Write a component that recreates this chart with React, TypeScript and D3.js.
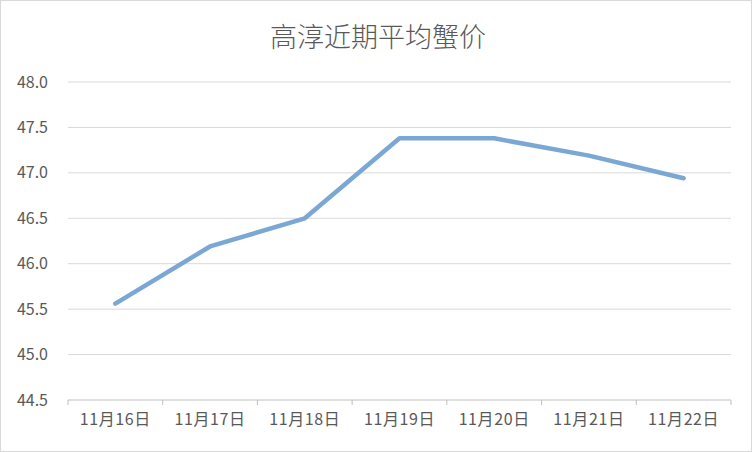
import { useEffect } from 'react';
import * as d3 from 'd3';

const title = '高淳近期平均蟹价';
const categories = ['11月16日', '11月17日', '11月18日', '11月19日', '11月20日', '11月21日', '11月22日'];
const prices = [45.56, 46.19, 46.5, 47.38, 47.38, 47.19, 46.94];
const yTicks = [44.5, 45.0, 45.5, 46.0, 46.5, 47.0, 47.5, 48.0];

const W = 752;
const H = 452;
const margin = { top: 82, right: 21, bottom: 52, left: 68 };
const font = '"Noto Sans CJK SC", "Noto Sans", sans-serif';

export default function App() {
  useEffect(() => {
    document.body.style.margin = '0';
  }, []);

  const x = d3
    .scaleBand<string>()
    .domain(categories)
    .range([margin.left, W - margin.right]);
  const y = d3
    .scaleLinear()
    .domain([44.5, 48.0])
    .range([H - margin.bottom, margin.top]);

  const line = d3
    .line<number>()
    .x((_, i) => (x(categories[i]) || 0) + x.bandwidth() / 2)
    .y((d) => y(d));

  const boundaries = [...categories.map((c) => x(c) || 0), W - margin.right];

  return (
    <svg width={W} height={H} style={{ display: 'block', fontFamily: font }}>
      <rect x={0.5} y={0.5} width={W - 1} height={H - 1} fill="#fff" stroke="#d9d9d9" />
      <text x={W / 2 + 2} y={47} textAnchor="middle" fontSize={27} fill="#595959" fontWeight={300}>
        {title}
      </text>
      {/* gridlines */}
      {yTicks.slice(1).map((t) => (
        <line key={t} x1={margin.left} x2={W - margin.right} y1={y(t)} y2={y(t)} stroke="#d9d9d9" />
      ))}
      {yTicks.map((t) => (
        <text key={'l' + t} x={48} y={y(t)} dy="0.35em" textAnchor="end" fontSize={16} fill="#595959">
          {d3.format('.1f')(t)}
        </text>
      ))}
      {/* x axis */}
      <line x1={margin.left} x2={W - margin.right} y1={y(44.5)} y2={y(44.5)} stroke="#bfbfbf" />
      {boundaries.map((b, i) => (
        <line key={'t' + i} x1={b} x2={b} y1={y(44.5)} y2={y(44.5) + 5} stroke="#bfbfbf" />
      ))}
      {categories.map((c) => (
        <text
          key={c}
          x={(x(c) || 0) + x.bandwidth() / 2}
          y={y(44.5) + 25}
          textAnchor="middle"
          fontSize={16}
          letterSpacing={0.6}
          fill="#595959"
        >
          {c}
        </text>
      ))}
      <path
        d={line(prices) || ''}
        fill="none"
        stroke="#7ba7d4"
        strokeWidth={4.5}
        strokeLinecap="round"
        strokeLinejoin="round"
      />
    </svg>
  );
}
